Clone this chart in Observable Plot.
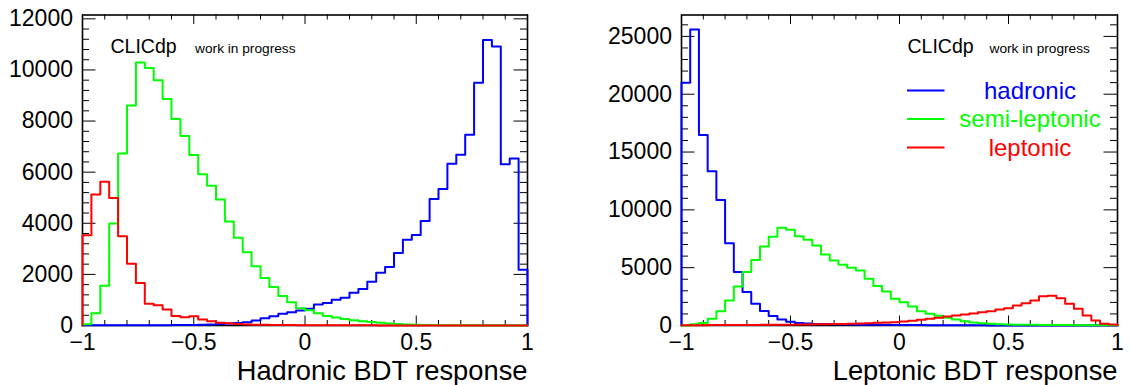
<!DOCTYPE html>
<html>
<head>
<meta charset="utf-8">
<script src="https://cdn.jsdelivr.net/npm/d3@7"></script>
<script src="https://cdn.jsdelivr.net/npm/@observablehq/plot@0.6"></script>
<style>
  html, body { margin: 0; padding: 0; background: #fff; }
  #wrap { position: relative; width: 1133px; height: 385px; overflow: hidden; }
  #left, #right { position: absolute; top: 0; }
  #left { left: 0; }
  #right { left: 566px; }
</style>
</head>
<body>
<div id="wrap"><div id="left"></div><div id="right"></div></div>
<script>
// ---------- data (50 bins, width 0.04, from -1 to 1) ----------
const binStart = -1;
const binWidth = 0.04;

// Hadronic BDT response
const hadBDT_hadronic = [5,5,5,5,5,8,8,10,10,12,15,18,22,30,40,55,75,100,130,196,288,366,458,523,588,654,824,876,1007,1085,1281,1425,1712,2065,2288,2837,3359,3542,4092,4954,5346,6327,6680,7464,9503,11176,10915,6314,6536,2183];
const hadBDT_semilep = [50,480,1560,3990,6730,8610,10290,10080,9595,8863,8078,7412,6667,5922,5464,4928,4065,3438,2870,2320,1856,1503,1150,910,675,600,480,375,315,255,205,170,140,105,75,55,40,30,20,15,10,8,6,5,4,3,3,2,2,1];
const hadBDT_leptonic = [3530,5124,5621,4993,3490,2418,1660,850,790,630,375,327,366,235,165,110,85,58,40,30,25,20,18,15,12,10,10,8,8,6,6,5,5,4,4,3,3,3,2,2,2,2,1,1,1,1,1,1,1,1];

// Leptonic BDT response
const lepBDT_hadronic = [21000,25600,16484,13337,10855,7102,4619,2887,1876,1260,830,510,320,220,170,140,120,105,95,85,75,68,60,55,50,45,40,35,30,27,24,20,17,14,11,8,5,3,2,2,1,1,1,0,0,0,0,0,0,0];
const lepBDT_semilep = [0,100,210,577,1241,2165,3378,4619,5658,6842,7679,8458,8285,7708,7419,6928,6149,5629,5254,4994,4763,4042,3406,2945,2309,2021,1645,1241,1010,837,664,520,375,260,200,144,115,90,75,65,55,50,45,40,35,30,30,25,20,15];
const lepBDT_leptonic = [30,30,30,35,35,40,40,45,50,55,60,65,70,80,90,100,110,120,140,160,180,200,230,260,290,346,404,490,577,664,780,866,950,1039,1155,1241,1386,1501,1732,1934,2165,2520,2570,2367,1876,1443,866,433,144,90];

// axes
const xTicks = [-1, -0.5, 0, 0.5, 1];
const xMinor = [-0.9,-0.8,-0.7,-0.6,-0.4,-0.3,-0.2,-0.1,0.1,0.2,0.3,0.4,0.6,0.7,0.8,0.9];
const leftYTicks = [0, 2000, 4000, 6000, 8000, 10000, 12000];
const leftYMinorStep = 400;
const rightYTicks = [0, 5000, 10000, 15000, 20000, 25000];
const rightYMinorStep = 1000;
const leftYMax = 12150;
const rightYMax = 26850;

const seriesNames = ["hadronic", "semi-leptonic", "leptonic"];
const seriesColors = ["#0000ff", "#00ff00", "#ff0000"];
const xTitles = ["Hadronic BDT response", "Leptonic BDT response"];

// ---------- helpers ----------
const FONT = "'Liberation Sans', Arial, Helvetica, sans-serif";
function steps(vals) {
  const pts = [{x: binStart, y: 0}];
  vals.forEach((v, i) => pts.push({x: binStart + i * binWidth, y: v}));
  pts.push({x: binStart + vals.length * binWidth, y: vals[vals.length - 1]});
  pts.push({x: binStart + vals.length * binWidth, y: 0});
  return pts;
}
function fmt(d) { return d < 0 ? "\u2212" + Math.abs(d) : String(d); }
function minorList(max, step, majors) {
  const out = [];
  for (let v = step; v <= max; v += step) if (!majors.includes(v)) out.push(v);
  return out;
}

function panel({width, marginLeft, marginRight, yMax, yTicks, yMinor, series, title, clic}) {
  const marginTop = 14.5, marginBottom = 60, height = 385;
  const fw = width - marginLeft - marginRight;
  const fh = height - marginTop - marginBottom;
  const xl = 9.5, xs = 5, yl = 13.5, ys = 7;
  const marks = [
    Plot.frame({stroke: "black", strokeWidth: 1.6}),
    // x ticks bottom/top
    Plot.ruleX(xTicks, {x: d => d, insetTop: fh - xl, stroke: "black", strokeWidth: 1}),
    Plot.ruleX(xMinor, {x: d => d, insetTop: fh - xs, stroke: "black", strokeWidth: 1}),
    Plot.ruleX(xTicks, {x: d => d, insetBottom: fh - xl, stroke: "black", strokeWidth: 1}),
    Plot.ruleX(xMinor, {x: d => d, insetBottom: fh - xs, stroke: "black", strokeWidth: 1}),
    // y ticks left/right
    Plot.ruleY(yTicks, {y: d => d, insetRight: fw - yl, stroke: "black", strokeWidth: 1}),
    Plot.ruleY(yMinor, {y: d => d, insetRight: fw - ys, stroke: "black", strokeWidth: 1}),
    Plot.ruleY(yTicks, {y: d => d, insetLeft: fw - yl, stroke: "black", strokeWidth: 1}),
    Plot.ruleY(yMinor, {y: d => d, insetLeft: fw - ys, stroke: "black", strokeWidth: 1}),
  ];
  series.forEach((vals, i) => {
    marks.push(Plot.line(steps(vals), {x: "x", y: "y", curve: "step-after", stroke: seriesColors[i], strokeWidth: 2}));
  });
  marks.push(
    Plot.text([title], {frameAnchor: "bottom-right", text: d => d, textAnchor: "end", lineAnchor: "bottom", dy: 54.5, fontSize: 27.3, fill: "black"}),
    Plot.text(["CLICdp"], {frameAnchor: "top-left", text: d => d, textAnchor: "start", lineAnchor: "bottom", dx: clic[0], dy: 38, fontSize: 19.5, fill: "black"}),
    Plot.text(["work in progress"], {frameAnchor: "top-left", text: d => d, textAnchor: "start", lineAnchor: "bottom", dx: clic[1], dy: 38, fontSize: 13.7, fill: "black"})
  );
  return Plot.plot({
    width, height, marginLeft, marginRight, marginTop, marginBottom,
    style: {fontFamily: FONT, fontSize: "23px", color: "black", background: "white", overflow: "visible"},
    x: {domain: [-1, 1], ticks: xTicks, tickFormat: fmt, tickSize: 0, tickPadding: 8, label: null},
    y: {domain: [0, yMax], ticks: yTicks, tickFormat: fmt, tickSize: 0, tickPadding: 9.5, label: null},
    marks
  });
}

const left = panel({
  width: 566, marginLeft: 82, marginRight: 39,
  yMax: leftYMax, yTicks: leftYTicks, yMinor: minorList(leftYMax, leftYMinorStep, leftYTicks),
  series: [hadBDT_hadronic, hadBDT_semilep, hadBDT_leptonic],
  title: xTitles[0], clic: [28, 112.6]
});
document.getElementById("left").appendChild(left);

const right = panel({
  width: 567, marginLeft: 115, marginRight: 16,
  yMax: rightYMax, yTicks: rightYTicks, yMinor: minorList(rightYMax, rightYMinorStep, rightYTicks),
  series: [lepBDT_hadronic, lepBDT_semilep, lepBDT_leptonic],
  title: xTitles[1], clic: [226, 308]
});
document.getElementById("right").appendChild(right);

// legend (right panel)
const svg = d3.select(right);
const legendY = [90.5, 119, 147.5];
const g = svg.append("g");
seriesNames.forEach((name, i) => {
  g.append("line").attr("x1", 341).attr("x2", 378.5).attr("y1", legendY[i]).attr("y2", legendY[i])
    .attr("stroke", seriesColors[i]).attr("stroke-width", 2);
  g.append("text").attr("x", 464).attr("y", legendY[i] + 8).attr("text-anchor", "middle")
    .attr("fill", seriesColors[i]).style("font-size", "24px").style("font-family", FONT).text(name);
});
</script>
</body>
</html>
